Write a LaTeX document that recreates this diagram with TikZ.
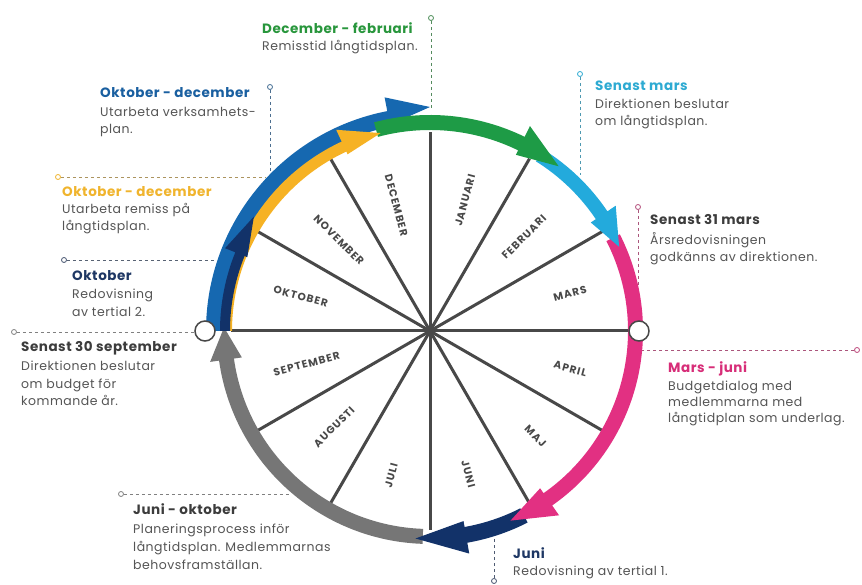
\documentclass[tikz,border=0pt]{standalone}
\usepackage{fontspec}
\setmainfont{Poppins}
\newfontfamily\monthfont{Poppins}[LetterSpace=10]
\newfontfamily\hdfont{Poppins}[LetterSpace=4]
\newfontfamily\bdfont{Poppins}[LetterSpace=4]
\definecolor{cgreen}{RGB}{30,155,70}
\definecolor{cblue}{RGB}{22,104,176}
\definecolor{cnavy}{RGB}{18,50,105}
\definecolor{cyellow}{RGB}{246,178,36}
\definecolor{ccyan}{RGB}{35,170,220}
\definecolor{cpink}{RGB}{226,48,130}
\definecolor{cgrey}{RGB}{118,118,118}
\definecolor{spk}{RGB}{72,72,72}
\definecolor{bodyc}{RGB}{85,85,85}
\definecolor{hgrey}{RGB}{60,60,60}
\definecolor{hgreen}{RGB}{40,150,60}
\definecolor{hblue}{RGB}{25,95,160}
\definecolor{hyellow}{RGB}{240,180,45}
\definecolor{hcyan}{RGB}{45,170,210}
\definecolor{hpink}{RGB}{215,45,120}
\definecolor{hnavy}{RGB}{30,55,100}
% color, start, base, tip, rin, rout, head-in, head-out, tip radius
\newcommand{\ringarrow}[9]{\fill[#1] (#2:#5pt) arc[start angle=#2, end angle=#3, radius=#5pt] -- (#3:#7pt) -- (#4:#9pt) -- (#3:#8pt) -- (#3:#6pt) arc[start angle=#3, end angle=#2, radius=#6pt] -- cycle;}
\begin{document}
\begin{tikzpicture}[x=1pt,y=1pt,
  hd/.style={anchor=base west, inner sep=0pt, font=\hdfont\fontsize{13.5}{15}\selectfont\bfseries},
  bd/.style={anchor=base west, inner sep=0pt, font=\bdfont\fontsize{12.5}{14}\selectfont, text=bodyc},
  mon/.style={inner sep=0pt, font=\monthfont\fontsize{10.5}{12}\selectfont\bfseries, text=spk},
  spoke/.style={draw=spk, line width=3pt},
  lead/.style={dash pattern=on 3pt off 3pt, line width=0.9pt},
  pin/.style={circle, draw, fill=white, line width=0.8pt, inner sep=0pt, minimum size=5pt},
  hole/.style={circle, draw=spk, fill=white, line width=1.5pt, inner sep=0pt, minimum size=20pt}]
\useasboundingbox (0,0) rectangle (862,585);
\fill[white] (0,0) rectangle (862,585);

% leader lines
\coordinate (e1) at (431,477);
\node[pin, draw=hgreen!60!gray] (p1) at (431,567) {};
\draw[lead, draw=hgreen!50!gray] (p1) -- (e1);
\coordinate (e2) at (270,410);
\node[pin, draw=hblue!60!gray] (p2) at (270,498) {};
\draw[lead, draw=hblue!50!gray] (p2) -- (e2);
\coordinate (e3) at (580,410);
\node[pin, draw=hcyan] (p3) at (580,511) {};
\draw[lead, draw=hcyan!60!gray] (p3) -- (e3);
\coordinate (e4) at (638,300);
\node[pin, draw=hpink!60!gray] (p4) at (638,378) {};
\draw[lead, draw=hpink!50!gray] (p4) -- (e4);
\coordinate (e5) at (642,235);
\node[pin, draw=hpink!70!gray] (p5) at (857,235) {};
\draw[lead, draw=hpink!50!gray] (p5) -- (e5);
\coordinate (e6) at (494,47);
\node[pin, draw=hnavy!60!gray] (p6) at (494,4) {};
\draw[lead, draw=hnavy!50!gray] (p6) -- (e6);
\coordinate (e7) at (290,91);
\node[pin, draw=gray] (p7) at (121,91) {};
\draw[lead, draw=gray] (p7) -- (e7);
\coordinate (e8) at (196,253);
\node[pin, draw=gray] (p8) at (14,253) {};
\draw[lead, draw=gray] (p8) -- (e8);
\coordinate (e9) at (216,325);
\node[pin, draw=hnavy!60!gray] (p9) at (64,325) {};
\draw[lead, draw=hnavy!40!gray] (p9) -- (e9);
\coordinate (e10) at (265,408);
\node[pin, draw=hyellow] (p10) at (58,408) {};
\draw[lead, draw=hyellow!40!gray] (p10) -- (e10);

\begin{scope}[shift={(430,254)}]
  \fill[white] (0,0) circle[radius=199pt];
  \foreach \a in {0,30,...,330} \draw[spoke] (0,0) -- (\a:199pt);
  % months
  \node[mon, rotate=75, anchor=east] (m1) at (75:162pt) {JANUARI};
  \node[mon, rotate=45, anchor=east] (m2) at (45:162pt) {FEBRUARI};
  \node[mon, rotate=15, anchor=east] (m3) at (15:162pt) {MARS};
  \node[mon, rotate=-15, anchor=east] (m4) at (-15:162pt) {APRIL};
  \node[mon, rotate=-45, anchor=east] (m5) at (-45:162pt) {MAJ};
  \node[mon, rotate=-75, anchor=east] (m6) at (-75:162pt) {JUNI};
  \node[mon, rotate=75, anchor=west] (m7) at (255:162pt) {JULI};
  \node[mon, rotate=45, anchor=west] (m8) at (225:162pt) {AUGUSTI};
  \node[mon, rotate=15, anchor=west] (m9) at (195:162pt) {SEPTEMBER};
  \node[mon, rotate=-15, anchor=west] (m10) at (165:162pt) {OKTOBER};
  \node[mon, rotate=-45, anchor=west] (m11) at (135:162pt) {NOVEMBER};
  \node[mon, rotate=-75, anchor=west] (m12) at (105:162pt) {DECEMBER};
  % ring arrows
  \ringarrow{cgrey}{268}{188}{179}{198}{213}{190}{222}{206}
  \ringarrow{cnavy}{297}{280}{266}{199}{215}{193}{226}{208}
  \ringarrow{cpink}{27}{-55}{-67}{198}{213}{192}{225}{206}
  \ringarrow{ccyan}{58}{34}{24}{200}{214}{194}{224}{207}
  \ringarrow{cblue}{180}{101}{90}{208}{224}{210}{238}{224}
  \ringarrow{cgreen}{105}{64}{52}{201}{216}{196}{228}{209}
  \ringarrow{cyellow}{180}{115}{104}{198}{209}{195}{222}{204}
  \ringarrow{cnavy}{180}{158}{147}{200}{210}{197}{221}{210}
  \node[hole] (hl) at (180:225pt) {};
  \node[hole] (hr) at (0:209pt) {};
\end{scope}

% texts
\node[hd, text=hgreen] (t1h) at (262,551) {December - februari};
\node[bd] (t1a) at (262,534) {Remisstid långtidsplan.};

\node[hd, text=hblue] (t2h) at (100,487) {Oktober - december};
\node[bd] (t2a) at (100,468) {Utarbeta verksamhets-};
\node[bd] (t2b) at (100,451) {plan.};

\node[hd, text=hcyan] (t3h) at (595,494) {Senast mars};
\node[bd] (t3a) at (595,476) {Direktionen beslutar};
\node[bd] (t3b) at (595,459) {om långtidsplan.};

\node[hd, text=hgrey] (t4h) at (650,360) {Senast 31 mars};
\node[bd] (t4a) at (650,340) {Årsredovisningen};
\node[bd] (t4b) at (650,323) {godkänns av direktionen.};

\node[hd, text=hpink] (t5h) at (668,212) {Mars - juni};
\node[bd] (t5a) at (668,194) {Budgetdialog med};
\node[bd] (t5b) at (668,178) {medlemmarna med};
\node[bd] (t5c) at (668,162) {långtidplan som underlag.};

\node[hd, text=hnavy] (t6h) at (513,26) {Juni};
\node[bd] (t6a) at (513,9) {Redovisning av tertial 1.};

\node[hd, text=hgrey] (t7h) at (133,70) {Juni - oktober};
\node[bd] (t7a) at (133,51) {Planeringsprocess inför};
\node[bd] (t7b) at (133,33) {långtidsplan. Medlemmarnas};
\node[bd] (t7c) at (133,15) {behovsframställan.};

\node[hd, text=hgrey] (t8h) at (21,233) {Senast 30 september};
\node[bd] (t8a) at (21,214) {Direktionen beslutar};
\node[bd] (t8b) at (21,196) {om budget för};
\node[bd] (t8c) at (21,179) {kommande år.};

\node[hd, text=hnavy] (t9h) at (72,304) {Oktober};
\node[bd] (t9a) at (72,286) {Redovisning};
\node[bd] (t9b) at (72,268) {av tertial 2.};

\node[hd, text=hyellow] (t10h) at (62,388) {Oktober - december};
\node[bd] (t10a) at (62,371) {Utarbeta remiss på};
\node[bd] (t10b) at (62,354) {långtidsplan.};
\end{tikzpicture}
\end{document}
